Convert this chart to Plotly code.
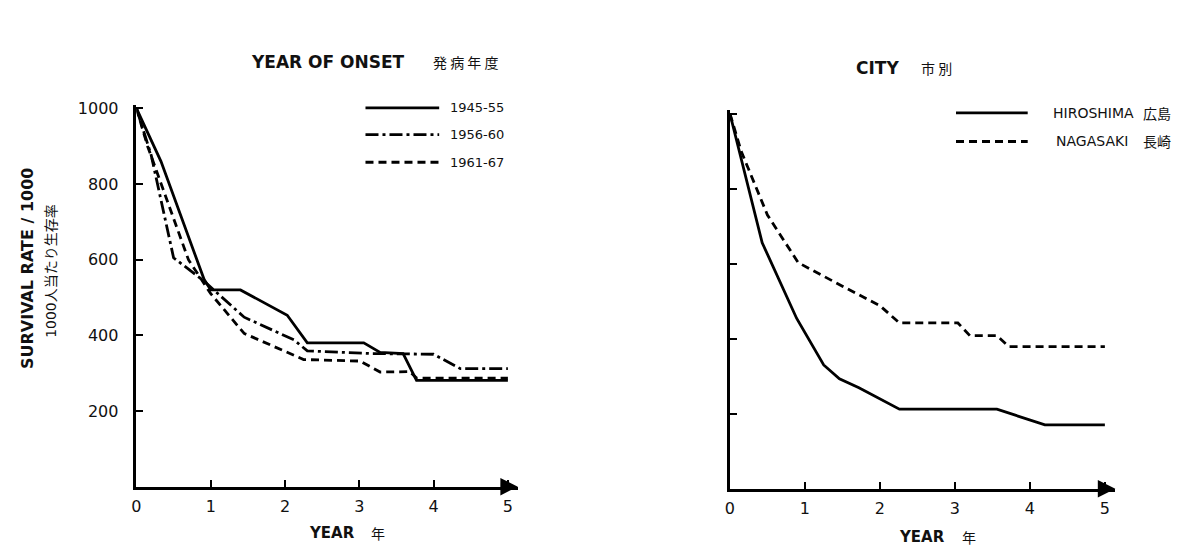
import plotly.graph_objects as go

# ---------------- data ----------------
years_4555 = [0, 0.33, 0.91, 1.0, 1.4, 2.03, 2.3, 3.06, 3.28, 3.59, 3.77, 5.0]
surv_4555 = [1000, 860, 548, 520, 520, 453, 380, 380, 355, 352, 281, 281]

years_5660 = [0, 0.2, 0.5, 0.9, 1.45, 2.12, 2.3, 3.15, 4.0, 4.36, 5.0]
surv_5660 = [1000, 875, 605, 545, 448, 388, 359, 352, 350, 312, 312]

years_6167 = [0, 0.15, 0.7, 1.0, 1.45, 2.25, 3.01, 3.28, 3.68, 3.77, 5.0]
surv_6167 = [1000, 900, 600, 510, 405, 336, 332, 303, 304, 287, 287]

years_hiro = [0, 0.43, 0.89, 1.25, 1.46, 1.72, 2.26, 3.56, 4.2, 5.0]
surv_hiro = [1000, 656, 454, 330, 293, 269, 212, 212, 170, 170]

years_naga = [0, 0.15, 0.5, 0.91, 1.5, 2.0, 2.26, 3.04, 3.2, 3.56, 3.72, 5.0]
surv_naga = [1000, 900, 730, 603, 540, 488, 442, 442, 408, 408, 379, 379]

x_ticks = [0, 1, 2, 3, 4, 5]
y_ticks = [200, 400, 600, 800, 1000]

W, H = 1195, 546
FONT = "'DejaVu Sans', 'Noto Sans CJK JP', sans-serif"
JFONT = "'Noto Sans CJK JP', sans-serif"
DASH = "8px,5px"
DASHDOT = "13px,4px,3px,4px"
LW = 2.8


def px(x):
    return x / W


def py(y):
    return 1 - y / H


fig = go.Figure()
line_specs = [
    (years_4555, surv_4555, "solid", "1945-55", "x", "y"),
    (years_5660, surv_5660, DASHDOT, "1956-60", "x", "y"),
    (years_6167, surv_6167, DASH, "1961-67", "x", "y"),
    (years_hiro, surv_hiro, "solid", "HIROSHIMA", "x2", "y2"),
    (years_naga, surv_naga, DASH, "NAGASAKI", "x2", "y2"),
]
for xs, ys, dash, name, xa, ya in line_specs:
    fig.add_trace(go.Scatter(x=xs, y=ys, mode="lines", name=name,
                             line=dict(color="black", width=LW, dash=dash),
                             xaxis=xa, yaxis=ya, showlegend=False))

axis_common = dict(showline=True, linecolor="black", linewidth=2.5, showgrid=False,
                   zeroline=False, ticks="inside", ticklen=7, tickwidth=2,
                   tickcolor="black", tickfont=dict(family=FONT, size=16, color="#111"))

# left panel: year0 at 132px, year5 at 505px ; y 0 at 486px, 1000 at 104px
lx0, lx1 = 132, 515
lxr = (lx1 - lx0) / 74.6
ly0, ly1 = 486, 100
lyr = (ly0 - ly1) / 0.3825
# right panel
rx0, rx1 = 728, 1115
rxr = (rx1 - rx0) / 75.3
ry0, ry1 = 488, 105
ryr = (ry0 - ry1) / 0.379

fig.update_layout(
    width=W, height=H, margin=dict(l=0, r=0, t=0, b=0),
    paper_bgcolor="white", plot_bgcolor="rgba(0,0,0,0)",
    xaxis=dict(domain=[px(lx0), px(lx1)], range=[0, lxr], tickvals=x_ticks,
               anchor="y", ticklabelstandoff=3, **axis_common),
    yaxis=dict(domain=[py(ly0), py(ly1)], range=[0, lyr], tickvals=y_ticks,
               anchor="x", ticklabelstandoff=12, **axis_common),
    xaxis2=dict(domain=[px(rx0), px(rx1)], range=[0, rxr], tickvals=x_ticks,
                anchor="y2", ticklabelstandoff=3, **axis_common),
    yaxis2=dict(domain=[py(ry0), py(ry1)], range=[0, ryr], tickvals=y_ticks,
                showticklabels=False, anchor="x2", **axis_common),
)

# axis arrows
fig.add_annotation(x=lxr, y=0, xref="x", yref="y", ax=-14, ay=0, axref="pixel", ayref="pixel",
                   showarrow=True, arrowhead=2, arrowsize=1.4, arrowwidth=2.5, arrowcolor="black", text="")
fig.add_annotation(x=rxr, y=0, xref="x2", yref="y2", ax=-14, ay=0, axref="pixel", ayref="pixel",
                   showarrow=True, arrowhead=2, arrowsize=1.4, arrowwidth=2.5, arrowcolor="black", text="")


def txt(x, y, s, size=15, anchor="center", angle=0, family=FONT, bold=False):
    fig.add_annotation(x=px(x), y=py(y), xref="paper", yref="paper",
                       text=f"<b>{s}</b>" if bold else s, showarrow=False,
                       xanchor=anchor, yanchor="middle", textangle=angle,
                       font=dict(family=family, size=size, color="#111"))


# titles
txt(245, 57, "YEAR OF ONSET", 17, "left", bold=True)
txt(428, 57, "発 病 年 度", 14, "left", family=JFONT)
txt(853, 63, "CITY", 17, "left", bold=True)
txt(918, 63, "市 別", 14, "left", family=JFONT)

# axis titles
txt(303, 533, "YEAR", 15, "left", bold=True)
txt(366, 533, "年", 14, "left", family=JFONT)
txt(896, 537, "YEAR", 15, "left", bold=True)
txt(959, 537, "年", 14, "left", family=JFONT)
txt(22, 265, "SURVIVAL RATE / 1000", 16, angle=-90, bold=True)
txt(46, 268, "1000人当たり生存率", 14, angle=-90)

# legend keys (decoration)
leg_left = [(103, "solid", "1945-55"), (130, DASHDOT, "1956-60"), (158, DASH, "1961-67")]
for yy, dash, lab in leg_left:
    fig.add_shape(type="line", xref="paper", yref="paper", x0=px(362), x1=px(436), y0=py(yy), y1=py(yy),
                  line=dict(color="black", width=LW, dash=dash))
    txt(445, yy, lab, 13, "left")

leg_right = [(108, "solid", "HIROSHIMA", "広島", 1050), (137, DASH, "NAGASAKI", "長崎", 1053)]
for yy, dash, lab, jp, xs in leg_right:
    fig.add_shape(type="line", xref="paper", yref="paper", x0=px(955), x1=px(1027), y0=py(yy), y1=py(yy),
                  line=dict(color="black", width=LW, dash=dash))
    txt(xs, yy, lab, 14, "left")
    txt(1141, yy, jp, 14, "left", family=JFONT)

fig.write_html("out.html", config={"displayModeBar": False},
               post_script="document.body.style.margin='0px';")
